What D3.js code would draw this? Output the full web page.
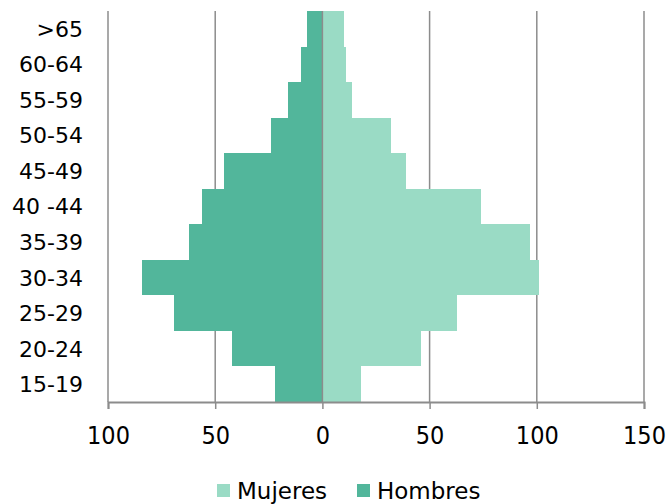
<!DOCTYPE html>
<html>
<head>
<meta charset="utf-8">
<script src="https://cdn.jsdelivr.net/npm/d3@7"></script>
<style>
  html, body { margin: 0; padding: 0; background: #fff; }
  svg { display: block; }
</style>
</head>
<body>
<script>
// age groups, top to bottom
const groups   = [">65", "60-64", "55-59", "50-54", "45-49", "40 -44", "35-39", "30-34", "25-29", "20-24", "15-19"];
const mujeres  = [10, 11, 14, 32, 39, 74, 97, 101, 63, 46, 18];
const hombres  = [7, 10, 16, 24, 46, 56, 62, 84, 69, 42, 22];
const xTicks   = [-100, -50, 0, 50, 100, 150];
const legendItems = ["Mujeres", "Hombres"];

const W = 666, H = 504;
const C_MUJ = "#9adbc5", C_HOM = "#52b69b", GRID = "#8c8c8c";
const FONT = "'DejaVu Sans', Verdana, sans-serif";
const FONT_C = "'DejaVu Sans Condensed', 'DejaVu Sans', sans-serif";
const margin = { top: 11, right: 22, bottom: 102, left: 108 };

const svg = d3.select("body").append("svg")
  .attr("width", W).attr("height", H);

const x = d3.scaleLinear()
  .domain([-100, 150])
  .range([margin.left, W - margin.right]);

const y = d3.scaleBand()
  .domain(groups)
  .range([margin.top, H - margin.bottom])
  .padding(0);

// gridlines (behind bars)
svg.append("g")
  .selectAll("line")
  .data(xTicks.filter(d => d !== 0))
  .join("line")
  .attr("x1", d => x(d)).attr("x2", d => x(d))
  .attr("y1", margin.top).attr("y2", H - margin.bottom)
  .attr("stroke", GRID).attr("stroke-width", 1.5);

// bars
svg.append("g")
  .attr("shape-rendering", "crispEdges")
  .selectAll("rect")
  .data(groups)
  .join("rect")
  .attr("x", (d, i) => x(-hombres[i]))
  .attr("y", d => y(d))
  .attr("width", (d, i) => x(0) - x(-hombres[i]))
  .attr("height", y.bandwidth())
  .attr("fill", C_HOM);

svg.append("g")
  .attr("shape-rendering", "crispEdges")
  .selectAll("rect")
  .data(groups)
  .join("rect")
  .attr("x", x(0))
  .attr("y", d => y(d))
  .attr("width", (d, i) => x(mujeres[i]) - x(0))
  .attr("height", y.bandwidth())
  .attr("fill", C_MUJ);

// zero line on top
svg.append("line")
  .attr("x1", x(0)).attr("x2", x(0))
  .attr("y1", margin.top).attr("y2", H - margin.bottom)
  .attr("stroke", GRID).attr("stroke-width", 1.5);

// x axis
const xAxis = svg.append("g")
  .attr("transform", `translate(0,${H - margin.bottom})`)
  .call(d3.axisBottom(x).tickValues(xTicks).tickSize(7).tickPadding(17)
    .tickFormat(d => Math.abs(d)))
  .call(g => g.select(".domain").attr("stroke", GRID).attr("stroke-width", 2))
  .call(g => g.selectAll(".tick line").attr("stroke", GRID).attr("stroke-width", 1.5));

xAxis.selectAll("text")
  .attr("font-family", FONT_C).attr("font-size", 25).attr("fill", "#000");

// y labels
svg.append("g")
  .selectAll("text")
  .data(groups)
  .join("text")
  .attr("x", 83)
  .attr("y", d => y(d) + y.bandwidth() / 2)
  .attr("dy", "0.36em")
  .attr("text-anchor", "end")
  .attr("font-family", FONT).attr("font-size", 22)
  .text(d => d);

// legend
const legend = svg.append("g").attr("transform", "translate(217,490.5)");
const legendX = [0, 140];
const legendColors = [C_MUJ, C_HOM];
legendItems.forEach((name, i) => {
  const g = legend.append("g").attr("transform", `translate(${legendX[i]},0)`);
  g.append("rect")
    .attr("x", 0).attr("y", -6.5).attr("width", 13).attr("height", 13)
    .attr("fill", legendColors[i]);
  g.append("text")
    .attr("x", 20).attr("y", 0).attr("dy", "0.36em")
    .attr("font-family", FONT).attr("font-size", 23)
    .text(name);
});
</script>
</body>
</html>
